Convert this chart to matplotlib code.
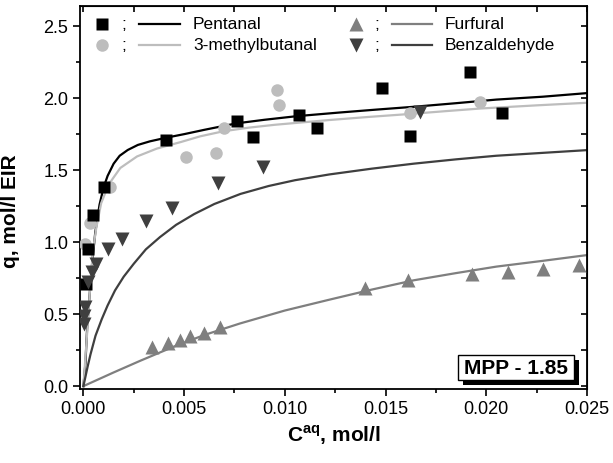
import matplotlib
matplotlib.use("Agg")
import matplotlib.pyplot as plt
from matplotlib.ticker import MultipleLocator, FormatStrFormatter
from matplotlib.patches import Rectangle

plt.rcParams['font.family'] = ['Liberation Sans', 'DejaVu Sans']
plt.rcParams['mathtext.fontset'] = 'custom'
plt.rcParams['mathtext.rm'] = 'Liberation Sans'
plt.rcParams['mathtext.bf'] = 'Liberation Sans:bold'

# measured points
pent_x = [0.00012, 0.00025, 0.0005, 0.0010, 0.0041, 0.0076, 0.0084, 0.0107, 0.0116, 0.0148, 0.0162, 0.0192, 0.0208]
pent_y = [0.71, 0.95, 1.19, 1.38, 1.71, 1.84, 1.73, 1.88, 1.79, 2.07, 1.74, 2.18, 1.90]

mb_x = [0.00008, 0.00033, 0.00133, 0.0051, 0.0066, 0.0070, 0.0096, 0.0097, 0.0162, 0.0197]
mb_y = [0.99, 1.13, 1.38, 1.59, 1.62, 1.79, 2.06, 1.95, 1.90, 1.97]

furf_x = [0.0034, 0.0042, 0.0048, 0.0053, 0.0060, 0.0068, 0.0140, 0.0161, 0.0193, 0.0211, 0.0228, 0.0246]
furf_y = [0.27, 0.30, 0.32, 0.35, 0.37, 0.41, 0.68, 0.74, 0.78, 0.79, 0.81, 0.84]

benz_x = [0.00003, 0.00005, 0.0001, 0.00025, 0.00041, 0.00061, 0.00124, 0.0019, 0.0031, 0.0044, 0.0067, 0.0089, 0.0167]
benz_y = [0.43, 0.49, 0.55, 0.72, 0.79, 0.85, 0.95, 1.02, 1.15, 1.24, 1.41, 1.52, 1.905]

# fitted curves
pent_cx = [0, 0.0001, 0.00018, 0.0003, 0.00043, 0.00059, 0.0008, 0.001, 0.0012, 0.0015, 0.0018, 0.0022,
           0.0027, 0.0033, 0.0041, 0.005, 0.006, 0.0076, 0.009, 0.0106, 0.0127, 0.0145, 0.0164, 0.0185,
           0.0205, 0.0228, 0.025]
pent_cy = [0, 0.16, 0.39, 0.62, 0.85, 1.07, 1.26, 1.38, 1.46, 1.545, 1.60, 1.64,
           1.675, 1.70, 1.725, 1.75, 1.78, 1.825, 1.85, 1.875, 1.90, 1.92, 1.94, 1.965,
           1.99, 2.01, 2.035]

mb_cx = [0, 0.0002, 0.00035, 0.00048, 0.00064, 0.00088, 0.00125, 0.00183, 0.00266, 0.00365, 0.00483,
         0.0058, 0.00695, 0.0082, 0.0095, 0.0122, 0.0142, 0.0162, 0.018, 0.0197, 0.0225, 0.025]
mb_cy = [0, 0.40, 0.72, 0.95, 1.10, 1.27, 1.40, 1.515, 1.595, 1.65, 1.695,
         1.735, 1.77, 1.795, 1.815, 1.848, 1.87, 1.89, 1.91, 1.928, 1.95, 1.968]

benz_cx = [0, 0.0001, 0.0002, 0.00035, 0.0006, 0.00091, 0.0012, 0.00157, 0.002, 0.0025, 0.0031, 0.0038,
           0.0046, 0.0055, 0.0065, 0.0078, 0.0092, 0.0105, 0.0122, 0.0143, 0.0164, 0.0185, 0.0205,
           0.0228, 0.025]
benz_cy = [0, 0.065, 0.13, 0.22, 0.35, 0.465, 0.56, 0.665, 0.76, 0.85, 0.95, 1.035,
           1.12, 1.195, 1.265, 1.335, 1.39, 1.43, 1.47, 1.51, 1.545, 1.575, 1.60,
           1.62, 1.639]

furf_cx = [0, 0.0015, 0.00282, 0.0045, 0.006, 0.00777, 0.01, 0.0122, 0.0143, 0.0164, 0.0185, 0.0205,
           0.0228, 0.025]
furf_cy = [0, 0.095, 0.176, 0.275, 0.355, 0.435, 0.525, 0.60, 0.67, 0.735, 0.785, 0.83,
           0.87, 0.91]

labels = ['Pentanal', '3-methylbutanal', 'Furfural', 'Benzaldehyde']
colors = ['black', '#bdbdbd', '#7f7f7f', '#3f3f3f']
markers = ['s', 'o', '^', 'v']
sizes = [8.5, 9, 10, 10]

fig = plt.figure(figsize=(6.13, 4.63), dpi=100)
ax = fig.add_axes([80 / 613, 1 - 389 / 463, 507 / 613, 383 / 463])

ax.plot(pent_cx, pent_cy, color=colors[0], lw=1.6, zorder=2)
ax.plot(mb_cx, mb_cy, color=colors[1], lw=1.6, zorder=2)
ax.plot(furf_cx, furf_cy, color=colors[2], lw=1.6, zorder=2)
ax.plot(benz_cx, benz_cy, color=colors[3], lw=1.6, zorder=2)

ax.plot(furf_x, furf_y, ls='none', marker='^', ms=sizes[2], color=colors[2], mec='none', zorder=3)
ax.plot(mb_x, mb_y, ls='none', marker='o', ms=sizes[1], color=colors[1], mec='none', zorder=3)
ax.plot(benz_x, benz_y, ls='none', marker='v', ms=sizes[3], color=colors[3], mec='none', zorder=4)
ax.plot(pent_x, pent_y, ls='none', marker='s', ms=sizes[0], color=colors[0], mec='none', zorder=3)

ax.set_xlim(-0.00017, 0.025)
ax.set_ylim(-0.02, 2.64)

ax.xaxis.set_major_locator(MultipleLocator(0.005))
ax.xaxis.set_minor_locator(MultipleLocator(0.0025))
ax.yaxis.set_major_locator(MultipleLocator(0.5))
ax.yaxis.set_minor_locator(MultipleLocator(0.25))
ax.xaxis.set_major_formatter(FormatStrFormatter('%.3f'))
ax.yaxis.set_major_formatter(FormatStrFormatter('%.1f'))
ax.tick_params(which='major', direction='out', length=5, width=1.2, labelsize=13)
ax.tick_params(which='minor', direction='out', length=3, width=1.2)
for sp in ax.spines.values():
    sp.set_linewidth(1.3)

top = ax.secondary_xaxis('top')
top.xaxis.set_major_locator(MultipleLocator(0.005))
top.xaxis.set_minor_locator(MultipleLocator(0.0025))
top.tick_params(which='both', direction='in', length=4, width=1.2, labeltop=False)
right = ax.secondary_yaxis('right')
right.yaxis.set_major_locator(MultipleLocator(0.5))
right.yaxis.set_minor_locator(MultipleLocator(0.25))
right.tick_params(which='both', direction='in', length=4, width=1.2, labelright=False)

ax.set_xlabel(r'C$^{\mathbf{aq}}$, mol/l', fontsize=15, fontweight='bold', labelpad=4)
ax.set_ylabel('q, mol/l EIR', fontsize=15, fontweight='bold')
ax.yaxis.set_label_coords(-0.118, 0.465)

# legend built by hand: marker ; line label
rows = [0.953, 0.898]
cols = [(0.0434, 0.0868, 0.116, 0.197, 0.223), (0.544, 0.586, 0.615, 0.694, 0.720)]
for i in range(4):
    c = cols[i // 2]
    yy = rows[i % 2]
    ax.plot([c[0]], [yy], marker=markers[i], ms=sizes[i], color=colors[i], mec='none',
            transform=ax.transAxes, clip_on=False)
    ax.text(c[1], yy, ';', transform=ax.transAxes, ha='center', va='center', fontsize=12.5)
    ax.plot([c[2], c[3]], [yy, yy], color=colors[i], lw=1.6, transform=ax.transAxes)
    ax.text(c[4], yy, labels[i], transform=ax.transAxes, ha='left', va='center', fontsize=12.5)

# MPP label box with drop shadow
bx, by, bw, bh = 0.7456, 0.0235, 0.2288, 0.0653
ax.add_patch(Rectangle((bx + 0.0099, by - 0.013), bw, bh, transform=ax.transAxes,
                       fc='black', ec='none', zorder=5))
ax.add_patch(Rectangle((bx, by), bw, bh, transform=ax.transAxes,
                       fc='white', ec='black', lw=1.0, zorder=6))
ax.text(bx + bw / 2, 0.038, 'MPP - 1.85', transform=ax.transAxes, ha='center', va='baseline',
        fontsize=15, fontweight='bold', zorder=7)

fig.savefig('out.png', dpi=100)
